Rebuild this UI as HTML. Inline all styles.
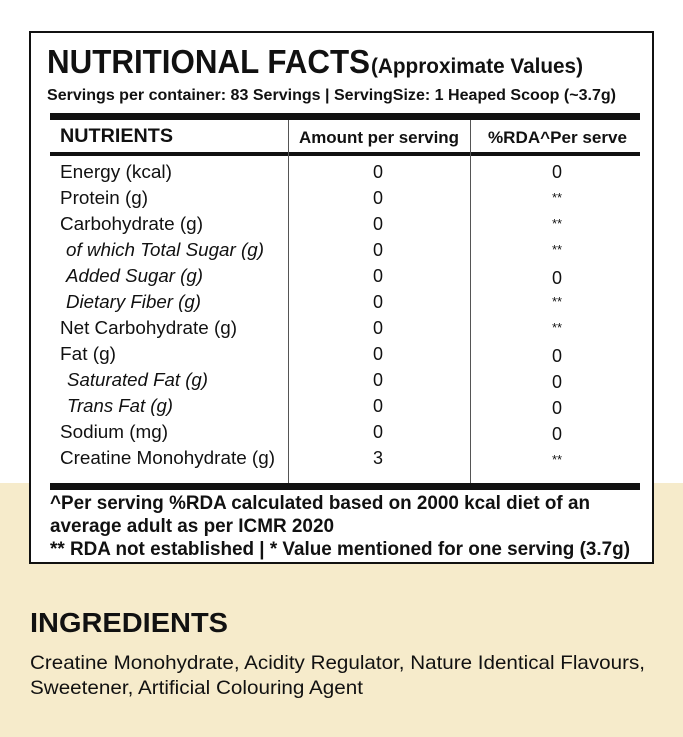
<!DOCTYPE html>
<html><head><meta charset="utf-8"><style>
html,body{margin:0;padding:0;background:#fff}
svg{display:block}
svg text{font-family:"Liberation Sans",Arial,sans-serif !important;fill:#111}
.b{font-weight:bold}
.r{font-size:18.5px}
.i{font-size:18.5px;font-style:italic}
.v{font-size:18px;text-anchor:middle}
.s{font-size:13px;text-anchor:middle}
</style></head><body>
<svg width="683" height="737" viewBox="0 0 683 737" xmlns="http://www.w3.org/2000/svg" font-family="Liberation Sans, Arial, sans-serif">
<rect x="0" y="0" width="683" height="737" fill="#fff"/>
<rect x="0" y="483" width="683" height="254" fill="#f6ebcb"/>
<rect x="30" y="32" width="623" height="531" fill="#fff" stroke="#111" stroke-width="2"/>
<g font-family="Liberation Sans">
<text class="b" x="47" y="73" font-size="33" textLength="323" lengthAdjust="spacingAndGlyphs">NUTRITIONAL FACTS</text>
<text class="b" x="371" y="73" font-size="21" textLength="212" lengthAdjust="spacingAndGlyphs">(Approximate Values)</text>
<text class="b" x="47" y="100" font-size="16" textLength="569" lengthAdjust="spacingAndGlyphs">Servings per container: 83 Servings | ServingSize: 1 Heaped Scoop (~3.7g)</text>
<rect x="50" y="113" width="590" height="7" fill="#111"/>
<rect x="50" y="152" width="590" height="4" fill="#111"/>
<rect x="50" y="483" width="590" height="7" fill="#111"/>
<line x1="288.5" y1="120" x2="288.5" y2="483" stroke="#555" stroke-width="1"/>
<line x1="470.5" y1="120" x2="470.5" y2="483" stroke="#555" stroke-width="1"/>
<text class="b" x="60" y="142" font-size="19" textLength="113" lengthAdjust="spacingAndGlyphs">NUTRIENTS</text>
<text class="b" x="299" y="143" font-size="17" textLength="160" lengthAdjust="spacingAndGlyphs">Amount per serving</text>
<text class="b" x="488" y="143" font-size="17" textLength="139" lengthAdjust="spacingAndGlyphs">%RDA^Per serve</text>

<text class="r" x="60" y="178" textLength="112" lengthAdjust="spacingAndGlyphs">Energy (kcal)</text>
<text class="r" x="60" y="204" textLength="88" lengthAdjust="spacingAndGlyphs">Protein (g)</text>
<text class="r" x="60" y="230" textLength="143" lengthAdjust="spacingAndGlyphs">Carbohydrate (g)</text>
<text class="i" x="66" y="256" textLength="198" lengthAdjust="spacingAndGlyphs">of which Total Sugar (g)</text>
<text class="i" x="66" y="282" textLength="137" lengthAdjust="spacingAndGlyphs">Added Sugar (g)</text>
<text class="i" x="66" y="308" textLength="135" lengthAdjust="spacingAndGlyphs">Dietary Fiber (g)</text>
<text class="r" x="60" y="334" textLength="177" lengthAdjust="spacingAndGlyphs">Net Carbohydrate (g)</text>
<text class="r" x="60" y="360" textLength="56" lengthAdjust="spacingAndGlyphs">Fat (g)</text>
<text class="i" x="67" y="386" textLength="141" lengthAdjust="spacingAndGlyphs">Saturated Fat (g)</text>
<text class="i" x="67" y="412" textLength="106" lengthAdjust="spacingAndGlyphs">Trans Fat (g)</text>
<text class="r" x="60" y="438" textLength="108" lengthAdjust="spacingAndGlyphs">Sodium (mg)</text>
<text class="r" x="60" y="464" textLength="215" lengthAdjust="spacingAndGlyphs">Creatine Monohydrate (g)</text>

<text class="v" x="378" y="178">0</text>
<text class="v" x="378" y="204">0</text>
<text class="v" x="378" y="230">0</text>
<text class="v" x="378" y="256">0</text>
<text class="v" x="378" y="282">0</text>
<text class="v" x="378" y="308">0</text>
<text class="v" x="378" y="334">0</text>
<text class="v" x="378" y="360">0</text>
<text class="v" x="378" y="386">0</text>
<text class="v" x="378" y="412">0</text>
<text class="v" x="378" y="438">0</text>
<text class="v" x="378" y="464">3</text>

<text class="v" x="557" y="178">0</text>
<text class="s" x="557" y="202">**</text>
<text class="s" x="557" y="228">**</text>
<text class="s" x="557" y="254">**</text>
<text class="v" x="557" y="284">0</text>
<text class="s" x="557" y="306">**</text>
<text class="s" x="557" y="332">**</text>
<text class="v" x="557" y="362">0</text>
<text class="v" x="557" y="388">0</text>
<text class="v" x="557" y="414">0</text>
<text class="v" x="557" y="440">0</text>
<text class="s" x="557" y="464">**</text>

<text class="b" x="50" y="509" font-size="19" textLength="540" lengthAdjust="spacingAndGlyphs">^Per serving %RDA calculated based on 2000 kcal diet of an</text>
<text class="b" x="50" y="532" font-size="19" textLength="284" lengthAdjust="spacingAndGlyphs">average adult as per ICMR 2020</text>
<text class="b" x="50" y="555" font-size="19" textLength="580" lengthAdjust="spacingAndGlyphs">** RDA not established | * Value mentioned for one serving (3.7g)</text>

<text class="b" x="30" y="632" font-size="28" textLength="198" lengthAdjust="spacingAndGlyphs">INGREDIENTS</text>
<text x="30" y="669" font-size="19.5" textLength="615" lengthAdjust="spacingAndGlyphs">Creatine Monohydrate, Acidity Regulator, Nature Identical Flavours,</text>
<text x="30" y="694" font-size="19.5" textLength="333" lengthAdjust="spacingAndGlyphs">Sweetener, Artificial Colouring Agent</text>
</g>
</svg>
</body></html>
